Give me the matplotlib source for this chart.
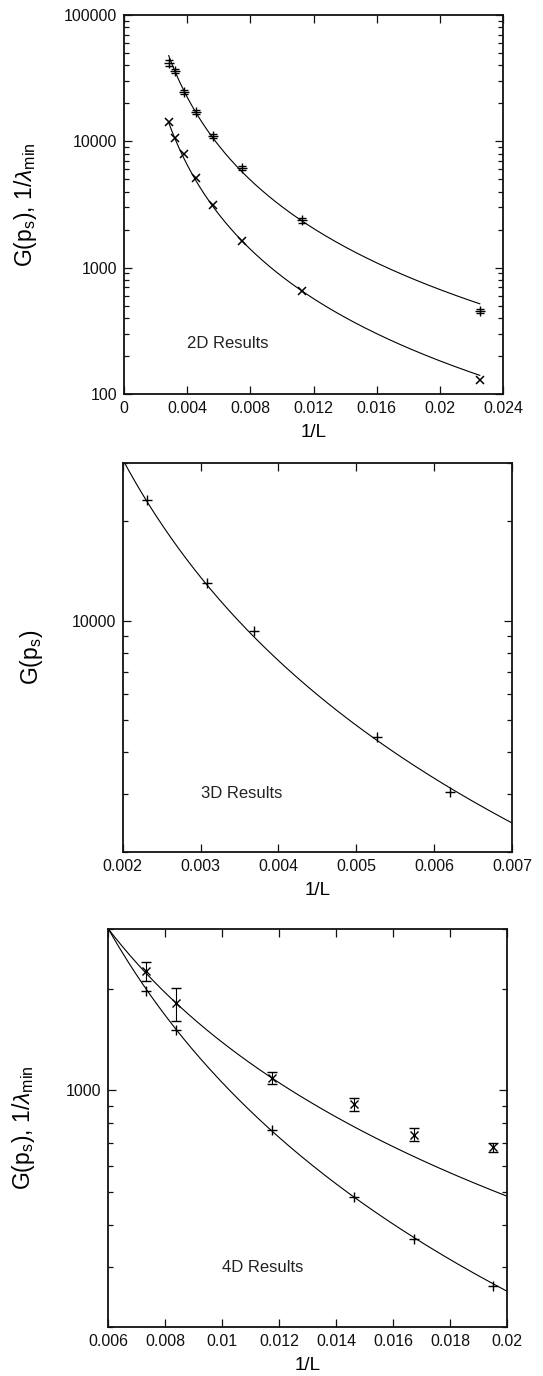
import numpy as np
import matplotlib
matplotlib.use("Agg")
import matplotlib.pyplot as plt
from matplotlib.ticker import FixedLocator, FixedFormatter, NullFormatter

plt.rcParams['font.family'] = ['Liberation Sans', 'DejaVu Sans']
plt.rcParams['mathtext.fontset'] = 'custom'
plt.rcParams['mathtext.rm'] = 'Liberation Sans'
plt.rcParams['mathtext.it'] = 'Liberation Sans:italic'

# ---------------- data ----------------
# 2D results
inv_L_2d = [0.00283, 0.00325, 0.00380, 0.00454, 0.00564, 0.00750, 0.01128, 0.02253]
G_2d = [42000, 36100, 24500, 17100, 11050, 6140, 2365, 452]
G_2d_err = [2200, 1600, 1000, 700, 400, 250, 90, 18]
lam_2d = [14300, 10700, 8000, 5080, 3110, 1640, 658, 130]
fit_2d_G = (0.0113, 2330.0, 2.18)      # (x0, y0, exponent): y = y0 * (x/x0)^-exponent
fit_2d_lam = (0.0113, 650.0, 2.22)

# 3D results
inv_L_3d = [0.002315, 0.003080, 0.003685, 0.005265, 0.006199]
G_3d = [23220, 13050, 9300, 4450, 3040]
fit_3d_G = (0.002, 30750.0, 2.02)

# 4D results
inv_L_4d = [0.007338, 0.008371, 0.011739, 0.014623, 0.016738, 0.019523]
G_4d = [1970, 1511, 762, 483, 364.5, 265]
lam_4d = [2247, 1813, 1088, 911, 740, 680]
lam_4d_lo = [2099, 1600, 1044, 867, 710, 660]
lam_4d_hi = [2396, 2006, 1130, 950, 772, 699]
fit_4d_G = (0.006, 3000.0, 2.047)
fit_4d_lam = (0.006, 3000.0, 1.51)

# tick labels
xt_2d = [0, 0.004, 0.008, 0.012, 0.016, 0.02, 0.024]
xl_2d = ['0', '0.004', '0.008', '0.012', '0.016', '0.02', '0.024']
yt_2d = [100, 1000, 10000, 100000]
yl_2d = ['100', '1000', '10000', '100000']
xt_3d = [0.002, 0.003, 0.004, 0.005, 0.006, 0.007]
xl_3d = ['0.002', '0.003', '0.004', '0.005', '0.006', '0.007']
yt_3d = [10000]
yl_3d = ['10000']
xt_4d = [0.006, 0.008, 0.01, 0.012, 0.014, 0.016, 0.018, 0.02]
xl_4d = ['0.006', '0.008', '0.01', '0.012', '0.014', '0.016', '0.018', '0.02']
yt_4d = [1000]
yl_4d = ['1000']

ylabel_two = r'G(p$_\mathrm{s}$), 1/$\lambda_\mathrm{min}$'
ylabel_one = r'G(p$_\mathrm{s}$)'


def power(fit, x):
    x0, y0, b = fit
    return y0 * (np.asarray(x) / x0) ** (-b)


W, H = 543, 1376
fig = plt.figure(figsize=(W / 100, H / 100), dpi=100)


def make_ax(l, r, t, b):
    return fig.add_axes([l / W, 1 - b / H, (r - l) / W, (b - t) / H])


LW = 0.8
TICK_FS = 11.5
LAB_FS = 13.5
YLAB_FS = 16.5
TXT_FS = 12


def style(ax, xt, xl, yt, yl, xlim, ylim):
    ax.set_yscale('log')
    ax.set_xlim(*xlim)
    ax.set_ylim(*ylim)
    ax.xaxis.set_major_locator(FixedLocator(xt))
    ax.xaxis.set_major_formatter(FixedFormatter(xl))
    ax.yaxis.set_major_locator(FixedLocator(yt))
    ax.yaxis.set_major_formatter(FixedFormatter(yl))
    ax.yaxis.set_minor_formatter(NullFormatter())
    ax.tick_params(which='both', direction='in', top=True, right=True,
                   labelsize=TICK_FS, width=0.9, colors='#111111')
    ax.tick_params(which='major', length=6, pad=5)
    ax.tick_params(which='minor', length=3.5)
    ax.tick_params(axis='x', which='minor', length=0)
    for s in ax.spines.values():
        s.set_linewidth(1.3)
        s.set_color('#111111')


# ---------------- 2D panel ----------------
ax1 = make_ax(124, 503, 15, 394)
style(ax1, xt_2d, xl_2d, yt_2d, yl_2d, (0, 0.024), (100, 100000))
xs = np.linspace(min(inv_L_2d), max(inv_L_2d), 300)
ax1.plot(xs, power(fit_2d_G, xs), color='k', lw=LW)
ax1.plot(xs, power(fit_2d_lam, xs), color='k', lw=LW)
ax1.errorbar(inv_L_2d, G_2d, yerr=G_2d_err, fmt='+', color='k', ms=7,
             mew=1.0, elinewidth=0.8, capsize=3, capthick=0.9)
ax1.plot(inv_L_2d, lam_2d, 'x', color='k', ms=6, mew=1.1)
ax1.text(0.004, 250, '2D Results', fontsize=TXT_FS, va='center', ha='left', color='#222222')
ax1.set_xlabel('1/L', fontsize=LAB_FS, labelpad=6)
ax1.set_ylabel(ylabel_two, fontsize=YLAB_FS)
ax1.yaxis.set_label_coords(-0.225, 0.5)

# ---------------- 3D panel ----------------
ax2 = make_ax(122.7, 512, 463, 852)
style(ax2, xt_3d, xl_3d, yt_3d, yl_3d, (0.002, 0.007), (2000, 30000))
xs = np.linspace(0.002, 0.007, 300)
ax2.plot(xs, power(fit_3d_G, xs), color='k', lw=LW)
ax2.plot(inv_L_3d, G_3d, '+', color='k', ms=7, mew=1.0)
ax2.text(0.003, 3000, '3D Results', fontsize=TXT_FS, va='center', ha='left', color='#222222')
ax2.set_xlabel('1/L', fontsize=LAB_FS, labelpad=6)
ax2.set_ylabel(ylabel_one, fontsize=YLAB_FS)
ax2.yaxis.set_label_coords(-0.2, 0.5)

# ---------------- 4D panel ----------------
ax3 = make_ax(108.4, 507, 929, 1327)
style(ax3, xt_4d, xl_4d, yt_4d, yl_4d, (0.006, 0.02), (200, 3000))
xs = np.linspace(0.006, 0.02, 300)
ax3.plot(xs, power(fit_4d_G, xs), color='k', lw=LW)
ax3.plot(xs, power(fit_4d_lam, xs), color='k', lw=LW)
ax3.plot(inv_L_4d, G_4d, '+', color='k', ms=7, mew=1.0)
lam = np.array(lam_4d)
yerr = [lam - np.array(lam_4d_lo), np.array(lam_4d_hi) - lam]
ax3.errorbar(inv_L_4d, lam_4d, yerr=yerr, fmt='x', color='k', ms=6, mew=1.0,
             elinewidth=0.8, capsize=3.5, capthick=0.9)
ax3.text(0.01, 300, '4D Results', fontsize=TXT_FS, va='center', ha='left', color='#222222')
ax3.set_xlabel('1/L', fontsize=LAB_FS, labelpad=6)
ax3.set_ylabel(ylabel_two, fontsize=YLAB_FS)
ax3.yaxis.set_label_coords(-0.18, 0.5)

fig.savefig('out.png', dpi=100)
